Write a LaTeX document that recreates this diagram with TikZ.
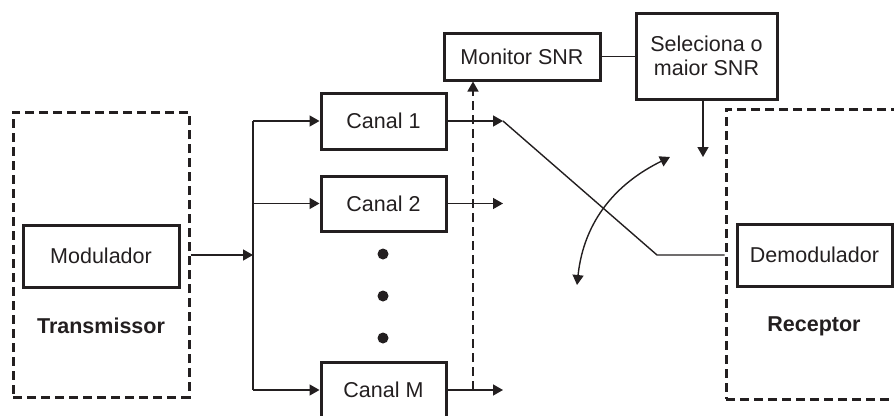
\documentclass[tikz,border=0pt]{standalone}
\usepackage{fontspec}
\setmainfont{Liberation Sans}
\usetikzlibrary{arrows.meta}
\definecolor{ink}{HTML}{231F20}
\begin{document}
\begin{tikzpicture}[x=1pt,y=-1pt,
  every node/.style={font=\fontsize{21.5}{26}\selectfont, text=ink},
  blockbox/.style={draw=ink, line width=3pt, minimum width=#1, inner sep=0pt},
  dashbox/.style={draw=ink, line width=3pt, dash pattern=on 9pt off 5pt, inner sep=0pt},
  conn/.style={draw=ink, line width=1.4pt},
  arr/.style={conn, -{Triangle[length=10pt,width=11pt]}},
  dblarr/.style={conn, {Triangle[length=10pt,width=11pt]}-{Triangle[length=10pt,width=11pt]}},
  boldlbl/.style={font=\fontsize{21.5}{26}\selectfont\bfseries},
  dotnode/.style={circle, fill=ink, minimum size=11pt, inner sep=0pt}
]
\useasboundingbox (0,0) rectangle (894,415);

% Transmitter
\node[dashbox, minimum width=176pt, minimum height=285pt] (tx) at (101,254.5) {};
\node[blockbox=156pt, minimum height=62pt] (mod) at (101,256) {Modulador};
\node[boldlbl] (txl) at (101,326) {Transmissor};

% Channels
\node[blockbox=125pt, minimum height=56pt] (c1) at (383.5,121) {Canal 1};
\node[blockbox=125pt, minimum height=55pt] (c2) at (383.5,203.5) {Canal 2};
\node[blockbox=125pt, minimum height=56pt] (cM) at (383.5,390) {Canal M};
\node[dotnode] (d1) at (383,254) {};
\node[dotnode] (d2) at (383,296) {};
\node[dotnode] (d3) at (383,338) {};

% Monitor and selector
\node[blockbox=156pt, minimum height=47pt] (mon) at (522,56.5) {Monitor SNR};
\node[blockbox=141pt, minimum height=86pt, align=center] (sel) at (706.5,56) {Seleciona o\\[-2pt]maior SNR};

% Receiver
\node[dashbox, minimum width=180pt, minimum height=290pt] (rx) at (816,254) {};
\node[blockbox=155pt, minimum height=62pt] (dem) at (814.5,255) {Demodulador};
\node[boldlbl] (rxl) at (814,326) {Receptor};

% coordinates
\coordinate (bus) at (253,255);
\coordinate (o1) at (503,121);
\coordinate (o2) at (503,203.5);
\coordinate (oM) at (503,390);
\coordinate (dbot) at (473,390);
\coordinate (selarr) at (703,157);
\coordinate (bend) at (657,255);
\coordinate (cvA) at (577,285);
\coordinate (cvB) at (670,157);

% connectors
\draw[arr] (tx.east |- bus) -- (bus);
\draw[conn] (bus |- c1.west) -- (bus |- cM.west);
\draw[arr] (bus |- c1.west) -- (c1.west);
\draw[arr] (bus |- c2.west) -- (c2.west);
\draw[arr] (bus |- cM.west) -- (cM.west);
\draw[arr] (c1.east) -- (o1);
\draw[arr] (c2.east) -- (o2);
\draw[arr] (cM.east) -- (oM);
\draw[arr, dash pattern=on 9pt off 5pt] (dbot) -- (dbot |- mon.south);
\draw[conn] (mon.east) -- (sel.west |- mon.east);
\draw[arr] (selarr |- sel.south) -- (selarr);
\draw[conn] (o1) -- (bend) -- (rx.west |- bend);
\draw[dblarr] (cvA) .. controls (584,220) and (617,183) .. (cvB);
\end{tikzpicture}
\end{document}
